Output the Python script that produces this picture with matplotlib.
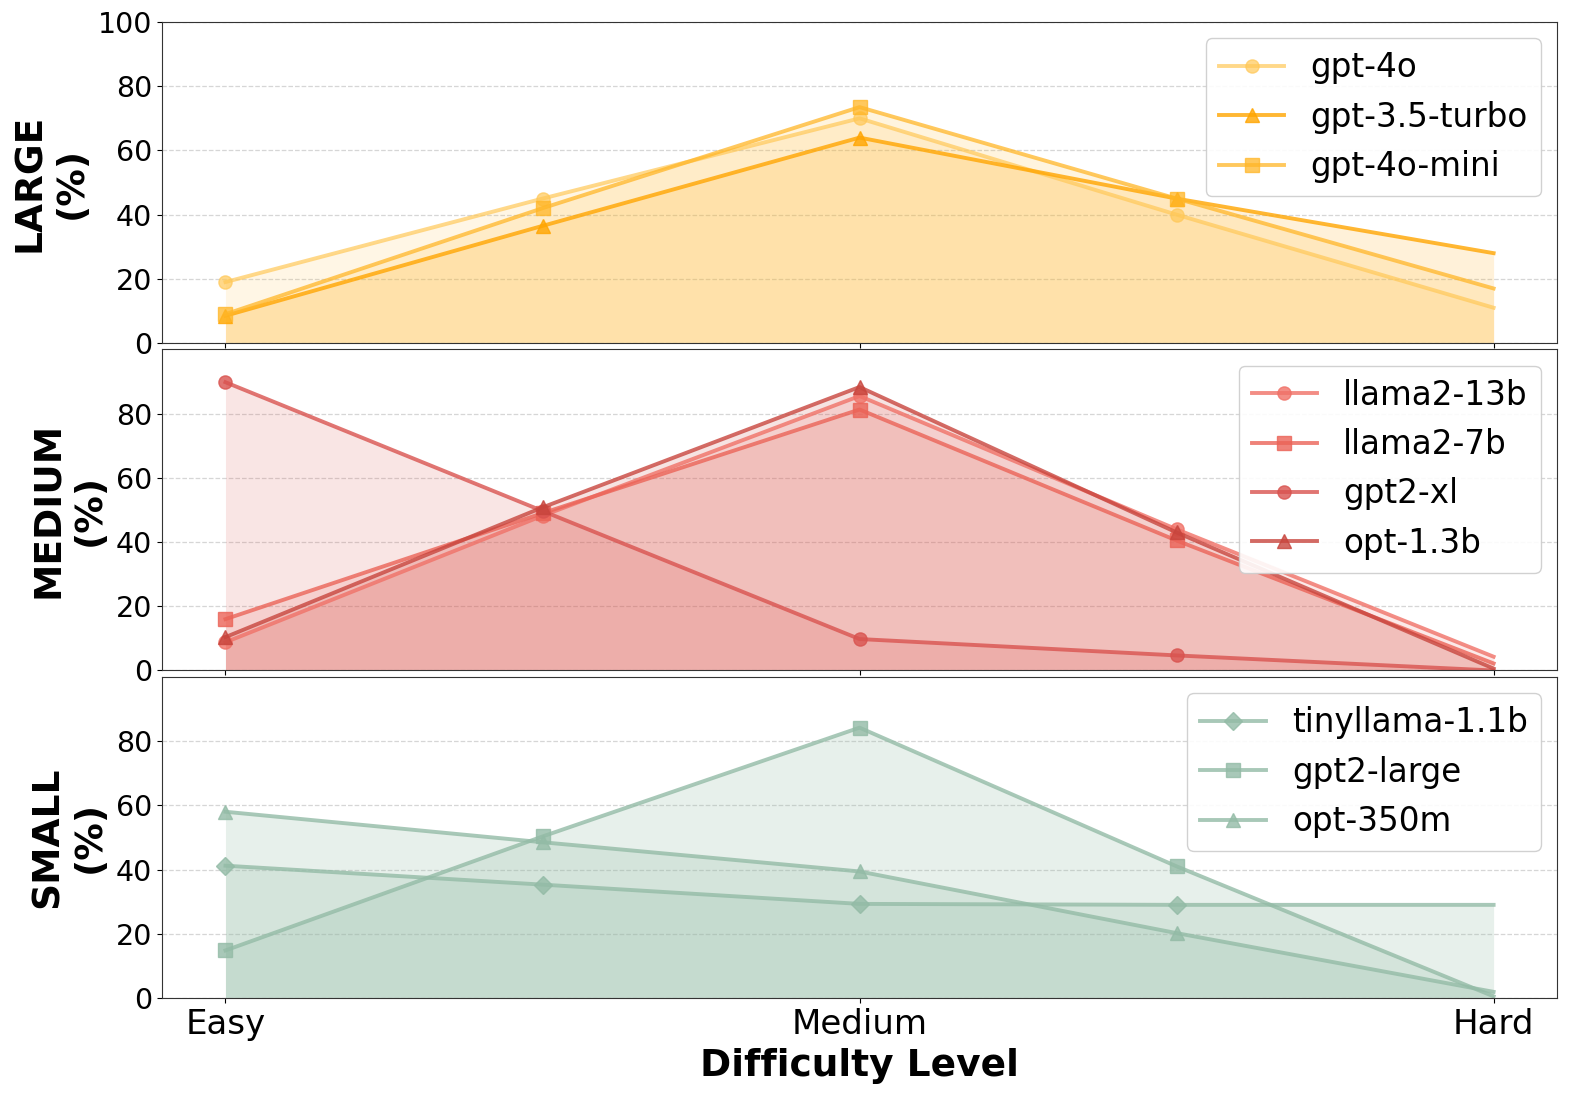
import numpy as np
import matplotlib
matplotlib.use("Agg")
from matplotlib import pyplot as plt

# x positions: Easy .. Hard, five sampled points
x = np.arange(5)
tick_pos = [0, 2, 4]
tick_labels = ['Easy', 'Medium', 'Hard']

large_names = ['gpt-4o', 'gpt-3.5-turbo', 'gpt-4o-mini']
large_vals = [
    [19, 45, 70, 40, 11],
    [8.5, 36.5, 64, 45, 28],
    [9, 42, 73.5, 45, 17],
]

medium_names = ['llama2-13b', 'llama2-7b', 'gpt2-xl', 'opt-1.3b']
medium_vals = [
    [8.8, 48.2, 85.5, 44, 4.3],
    [16, 49, 81.3, 40.5, 2.2],
    [89.8, 49.7, 9.8, 4.7, 0],
    [10.4, 50.8, 88.3, 43, 0.6],
]

small_names = ['tinyllama-1.1b', 'gpt2-large', 'opt-350m']
small_vals = [
    [41.2, 35.3, 29.3, 29, 29],
    [14.8, 50.3, 84.2, 41, 0.5],
    [58, 48.5, 39.4, 20.2, 1.9],
]

groups = [
    ('LARGE\n(%)', large_names, large_vals,
     ['#FFC857', '#FFA500', '#FFB627'], ['o', '^', 's'], [0.7, 0.8, 0.75], 0.15),
    ('MEDIUM\n(%)', medium_names, medium_vals,
     ['#F07167', '#EB6357', '#D9534F', '#C8453D'], ['o', 's', 'o', '^'], [0.8, 0.8, 0.8, 0.8], 0.15),
    ('SMALL\n(%)', small_names, small_vals,
     ['#93BBA6', '#93BBA6', '#93BBA6'], ['D', 's', '^'], [0.8, 0.8, 0.8], 0.22),
]

fig, axes = plt.subplots(3, 1, figsize=(15.78, 11.01), dpi=100, sharex=True)
fig.subplots_adjust(left=0.1027, right=0.9867, top=0.980, bottom=0.0936, hspace=0.02)

for i, (ax, (ylabel, names, vals, colors, markers, alphas, fa)) in enumerate(zip(axes, groups)):
    for name, v, c, m, a in zip(names, vals, colors, markers, alphas):
        ax.plot(x, v, color=c, marker=m, markersize=9.5, linewidth=2.8,
                alpha=a, label=name, markevery=[0, 1, 2, 3])
        ax.fill_between(x, v, color=c, alpha=fa, linewidth=0)
    ax.set_ylim(0, 100)
    if i == 0:
        ax.set_yticks([0, 20, 40, 60, 80, 100])
    else:
        ax.set_yticks([0, 20, 40, 60, 80])
    ax.tick_params(axis='y', labelsize=20.5)
    ax.tick_params(axis='x', labelsize=24.5)
    ax.set_ylabel(ylabel, fontsize=27, fontweight='bold', labelpad=6)
    ax.grid(True, axis='y', linestyle='--', color='#cccccc', alpha=0.8, linewidth=0.9)
    ax.set_axisbelow(True)
    for s in ax.spines.values():
        s.set_color('#333333')
    ax.legend(loc='upper right', fontsize=23.5, framealpha=0.9, edgecolor='#cccccc')

axes[-1].set_xticks(tick_pos)
axes[-1].set_xticklabels(tick_labels)
axes[-1].set_xlabel('Difficulty Level', fontsize=27, fontweight='bold', labelpad=5)

fig.savefig('out.png', dpi=100)
